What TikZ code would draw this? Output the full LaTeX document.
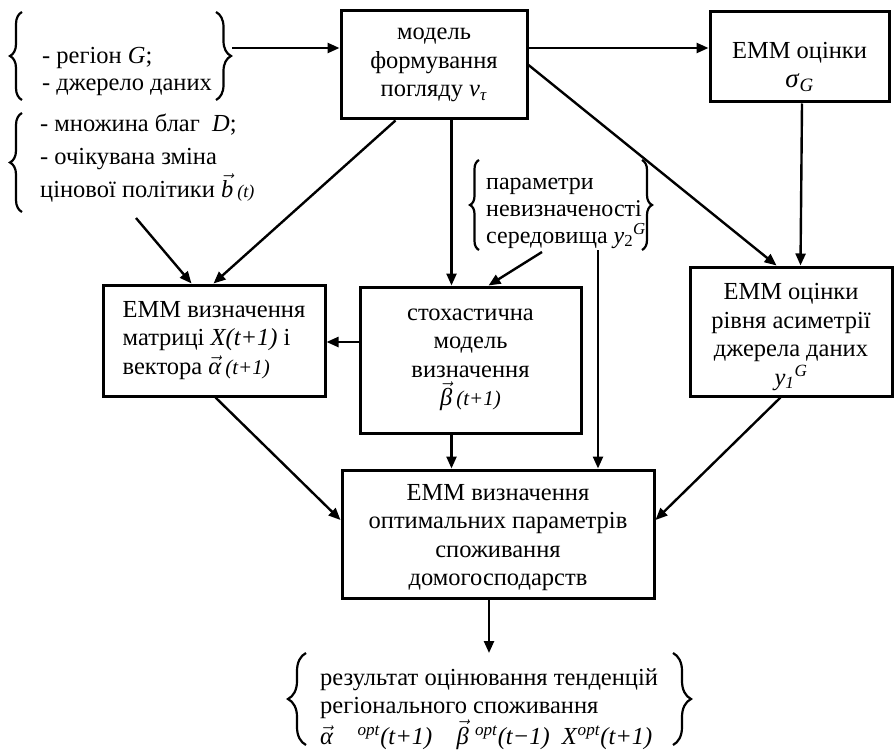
\documentclass[tikz,border=0pt]{standalone}
\usepackage{fontspec}
\setmainfont{Liberation Serif}
\usetikzlibrary{arrows.meta,calc,decorations.pathreplacing}
\newcommand\mfont{\fontsize{24.5}{28.5}\selectfont}
\newcommand\sfont{\fontsize{24}{27}\selectfont}
\newcommand\vect[1]{\ensuremath{\vec{\hbox{\itshape #1}}}}
\begin{document}
\begin{tikzpicture}[x=1pt,y=-1pt,
  box/.style={draw, line width=3pt, align=center, inner sep=0pt, font=\mfont},
  arr/.style={line width=2.4pt, -{Triangle[length=12pt,width=10pt]}},
  brc/.style={line width=2.2pt, decorate, decoration={brace, amplitude=#1}},
  txt/.style={anchor=west, align=left, inner sep=0pt}]
\useasboundingbox (0,0) rectangle (896,754);

% boxes
\node[box, minimum width=186pt, minimum height=108pt] (mf) at (434,65)
  {модель\\формування\\погляду \textit{v}\textsubscript{\textit{τ}}};
\node[box, minimum width=179pt, minimum height=90pt] (sg) at (799.5,57) {};
\node[align=center, inner sep=0pt, font=\mfont] (sgt) at (799.5,67)
  {ЕММ оцінки\\{\fontsize{27}{30}\selectfont\textit{σ}\textsubscript{\textit{G}}}};
\node[box, align=left, minimum width=222pt, minimum height=111pt] (emmx) at (214,340.5)
  {ЕММ визначення\\матриці \textit{X(t+1)} і\\вектора \vect{α}\,{\fontsize{21}{24}\selectfont\textit{(t+1)}}};
\node[box, minimum width=221pt, minimum height=146pt] (stoch) at (470.5,360)
  {стохастична\\модель\\визначення\\\vect{β}\,{\fontsize{21}{24}\selectfont\textit{(t+1)}}};
\node[box, minimum width=202pt, minimum height=129pt] (y1b) at (791,331.5)
  {\rule{0pt}{27pt}ЕММ оцінки\\рівня асиметрії\\джерела даних\\\textit{y}\textsubscript{\textit{1}}\textsuperscript{\textit{G}}};
\node[box, minimum width=312pt, minimum height=128pt] (opt) at (498,534)
  {\rule{0pt}{23pt}ЕММ визначення\\оптимальних параметрів\\споживання\\домогосподарств};

% bracketed texts
\node[txt, font=\fontsize{24.5}{27}\selectfont] (t1) at (42,71) {- регіон \textit{G};\\- джерело даних};
\node[txt, font=\fontsize{24.5}{33}\selectfont] (t2) at (40,158)
  {- множина благ \ \textit{D};\\- очікувана зміна\\цінової політики \vect{b}\,{\fontsize{18}{20}\selectfont\textit{(t)}}};
\node[txt, font=\sfont] (t3) at (486,213)
  {параметри\\невизначеності\\середовища \textit{y}\textsubscript{2}\textsuperscript{\textit{G}}};
\node[txt, font=\mfont] (t4) at (320,709)
  {результат оцінювання тенденцій\\регіонального споживання\\\vect{α}\quad\textsuperscript{\textit{opt}}\textit{(t+1)}\quad \vect{β}\ \textsuperscript{\textit{opt}}\textit{(t−1)}\hspace{0.5em}\textit{X}\textsuperscript{\textit{opt}}\textit{(t+1)}};

% braces
\draw[brc=12pt] (22,100) -- (22,12);
\draw[brc=15pt] (216,12) -- (216,100);
\draw[brc=12pt] (22,212) -- (22,113);
\draw[brc=9pt] (479,250) -- (479,160);
\draw[brc=10pt] (642,160) -- (642,250);
\draw[brc=18pt] (306,745) -- (306,653);
\draw[brc=18pt] (673,653) -- (673,745);

% free ends
\coordinate (b1o) at (232,48);
\coordinate (b2o) at (136,218);
\coordinate (y2a) at (542,252);
\coordinate (y2b) at (598,250);
\coordinate (res) at (489,653);

% connectors
\draw[arr] (b1o) -- (b1o -| mf.west);
\draw[arr] (mf.east |- b1o) -- (sg.west |- b1o);
\draw[arr] (b2o) -- ($(emmx.north west)+(90,0)$);
\draw[arr] ($(mf.south west)+(56,0)$) -- ($(emmx.north west)+(112,0)$);
\draw[arr] ($(mf.south west)+(112,0)$) -- ($(stoch.north west)+(93,0)$);
\draw[arr] (mf.east) -- ($(y1b.north west)+(88,0)$);
\draw[arr] ($(sg.south)+(2.5,0)$) -- ($(y1b.north west)+(112,0)$);
\draw[arr] (y2a) -- ($(stoch.north west)+(130,0)$);
\draw[arr] (y2b) -- (y2b |- opt.north);
\draw[arr] ($(stoch.west)+(0,-18)$) -- ($(emmx.east)+(0,1.5)$);
\draw[arr] ($(stoch.south west)+(93,0)$) -- ($(opt.north west)+(111,0)$);
\draw[arr] ($(emmx.south west)+(114,0)$) -- ($(opt.west)+(0,-14)$);
\draw[arr] ($(y1b.south west)+(92,0)$) -- ($(opt.east)+(0,-14)$);
\draw[arr] ($(opt.south)+(-9,0)$) -- (res);
\end{tikzpicture}
\end{document}
